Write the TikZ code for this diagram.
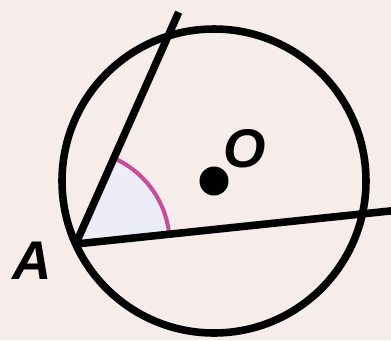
\documentclass[tikz,border=0pt]{standalone}
\usepackage{fontspec}
\setmainfont{Liberation Sans}
\usetikzlibrary{calc}
\definecolor{paper}{HTML}{F6ECEA}
\definecolor{wedge}{HTML}{ECEDF6}
\definecolor{arcpink}{HTML}{CC4C9C}

\begin{document}
\begin{tikzpicture}[line width=4.3pt, every node/.style={font=\fontsize{31}{36}\selectfont\bfseries\itshape}]
    \fill[paper] (-4.28,-3.18) rectangle (3.54,3.62);
    \useasboundingbox (-4.28,-3.18) rectangle (3.54,3.62);
    \coordinate (O) at (0,0);
    \coordinate (A) at (204.5:3.04);
    \coordinate (B) at (107.6:3.04);
    \coordinate (C) at (-12.5:3.04);
    \coordinate (Bend) at ($(A)!1.115!(B)$);
    \coordinate (Cend) at ($(A)!1.12!(C)$);
    % angle at A
    \fill[wedge] (A) -- ($(A)!1.88cm!(C)$) arc[start angle=6, end angle=66, radius=1.88] -- cycle;
    \draw[arcpink, line width=2.3pt] ($(A)!1.88cm!(C)$) arc[start angle=6, end angle=66, radius=1.88];
    \draw (O) circle[radius=3.04];
    \draw (A) -- (Bend);
    \draw (A) -- (Cend);
    \fill (O) circle[radius=0.29];
    \node (Olab) at (0.62,0.64) {O};
    \node (Alab) at (-3.64,-1.60) {A};
\end{tikzpicture}
\end{document}
